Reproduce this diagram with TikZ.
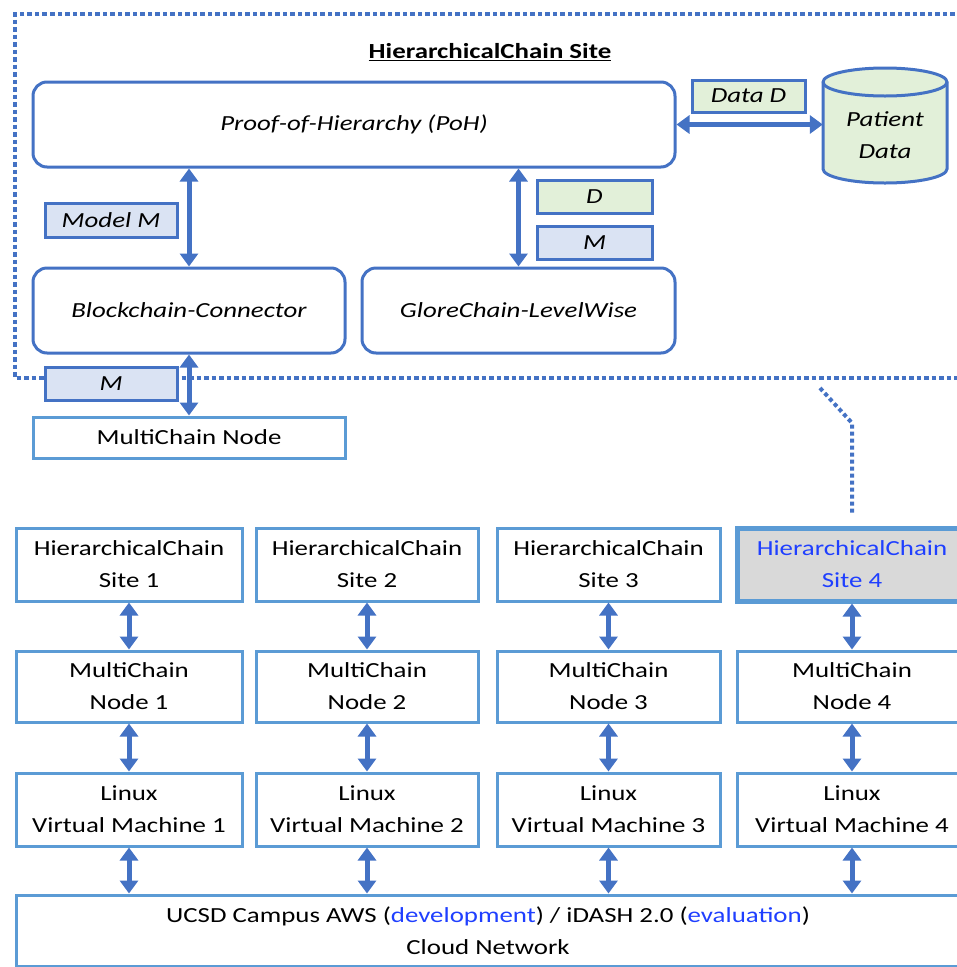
\documentclass[tikz,border=0pt]{standalone}
\usepackage{fontspec}
\setmainfont[FakeStretch=1.25]{Carlito}
\usetikzlibrary{arrows.meta}
\definecolor{cblue}{HTML}{4472C4}
\definecolor{lblue}{HTML}{5B9BD5}
\definecolor{gfill}{HTML}{E2F0D9}
\definecolor{bfill}{HTML}{DAE3F3}
\definecolor{grayfill}{HTML}{D9D9D9}
\definecolor{tblue}{HTML}{1F3FFF}
\begin{document}
\begin{tikzpicture}[x=1pt,y=-1pt,
  every node/.style={font=\fontsize{21.5}{32}\selectfont, inner sep=0pt, align=center, text=black},
  rbox/.style={draw=cblue, line width=3pt, rounded corners=14pt, font=\fontsize{21.5}{32}\selectfont\itshape},
  tagbox/.style={draw=cblue, line width=3pt, font=\fontsize{21.5}{32}\selectfont\itshape},
  sqbox/.style={draw=lblue, line width=3pt},
  dbl/.style={draw=cblue, line width=5pt, {Triangle[width=18pt,length=13pt]}-{Triangle[width=18pt,length=13pt]}},
  dotb/.style={draw=cblue, line width=4.5pt, dash pattern=on 4.5pt off 3pt}
]
\useasboundingbox (0,0) rectangle (957,967);

% dotted site border
\draw[dotb] (962,14) -- (15,14) -- (15,378) -- (962,378);

% title
\node (title) at (490,52) {\textbf{\underline{HierarchicalChain Site}}};

% upper components
\node[rbox, minimum width=642pt, minimum height=85pt] (poh) at (354,124.5) {Proof-of-Hierarchy (PoH)};
\node[rbox, minimum width=312pt, minimum height=85pt] (bc) at (189,310.5) {Blockchain-Connector};
\node[rbox, minimum width=313pt, minimum height=85pt] (glc) at (518.5,310.5) {GloreChain-LevelWise};

\node[tagbox, fill=gfill, minimum width=113pt, minimum height=32pt] (dataD) at (748.5,96) {Data D};
\node[tagbox, fill=bfill, minimum width=132pt, minimum height=34pt] (modelM) at (111,220) {Model M};
\node[tagbox, fill=gfill, minimum width=115pt, minimum height=33pt] (tD) at (594.5,196.5) {D};
\node[tagbox, fill=bfill, minimum width=115pt, minimum height=33pt] (tM) at (594.5,242.5) {M};
\node[tagbox, fill=bfill, minimum width=132pt, minimum height=33pt] (m2) at (111,383.5) {M};

% cylinder (patient data)
\path[draw=cblue, line width=3pt, fill=gfill]
  (823,82) -- (823,169) arc[start angle=180, end angle=360, x radius=62pt, y radius=14pt]
  -- (947,82) arc[start angle=0, end angle=180, x radius=62pt, y radius=14pt] -- cycle;
\draw[cblue, line width=3pt] (823,82) arc[start angle=180, end angle=360, x radius=62pt, y radius=14pt];
\node[minimum width=124pt, minimum height=80pt, font=\fontsize{21.5}{32}\selectfont\itshape] (pd) at (885,135) {Patient\\Data};

\node[sqbox, minimum width=312pt, minimum height=41pt] (mcn) at (189,437.5) {MultiChain Node};

% arrows upper
\draw[dbl] (poh.east) -- (poh.east -| pd.west);
\draw[dbl] (bc.north |- poh.south) -- (bc.north);
\draw[dbl] (glc.north |- poh.south) -- (glc.north);
\draw[dbl] (bc.south) -- (mcn.north);

% bottom grid
\node[sqbox, minimum width=226pt, minimum height=73pt] (s1) at (129,564.5) {HierarchicalChain\\Site 1};
\node[sqbox, minimum width=222pt, minimum height=73pt] (s2) at (367,564.5) {HierarchicalChain\\Site 2};
\node[sqbox, minimum width=223pt, minimum height=73pt] (s3) at (608.5,564.5) {HierarchicalChain\\Site 3};
\node[draw=lblue, line width=5pt, fill=grayfill, text=tblue, minimum width=230pt, minimum height=73pt] (s4) at (852,564.5) {HierarchicalChain\\Site 4};

\node[sqbox, minimum width=226pt, minimum height=71pt] (n1) at (129,686.5) {MultiChain\\Node 1};
\node[sqbox, minimum width=222pt, minimum height=71pt] (n2) at (367,686.5) {MultiChain\\Node 2};
\node[sqbox, minimum width=223pt, minimum height=71pt] (n3) at (608.5,686.5) {MultiChain\\Node 3};
\node[sqbox, minimum width=230pt, minimum height=71pt] (n4) at (852,686.5) {MultiChain\\Node 4};

\node[sqbox, minimum width=226pt, minimum height=73pt] (l1) at (129,809.5) {Linux\\Virtual Machine 1};
\node[sqbox, minimum width=222pt, minimum height=73pt] (l2) at (367,809.5) {Linux\\Virtual Machine 2};
\node[sqbox, minimum width=223pt, minimum height=73pt] (l3) at (608.5,809.5) {Linux\\Virtual Machine 3};
\node[sqbox, minimum width=230pt, minimum height=73pt] (l4) at (852,809.5) {Linux\\Virtual Machine 4};

\node[sqbox, minimum width=944pt, minimum height=71pt] (cloud) at (488,930.5)
  {UCSD Campus AWS (\textcolor{tblue}{development}) / iDASH 2.0 (\textcolor{tblue}{evaluation})\\Cloud Network};

\foreach \i in {1,2,3,4} {
  \draw[dbl] (s\i.south) -- (n\i.north);
  \draw[dbl] (n\i.south) -- (l\i.north);
  \draw[dbl] (l\i.south) -- (l\i.south |- cloud.north);
}

% dotted link from site border to Site 4
\coordinate (dstart) at (820,388);
\coordinate (dbend) at (852,423);
\draw[dotb, line width=4pt, dash pattern=on 4pt off 3pt] (dstart) -- (dbend) -- ([yshift=10pt]s4.north);
\end{tikzpicture}
\end{document}
